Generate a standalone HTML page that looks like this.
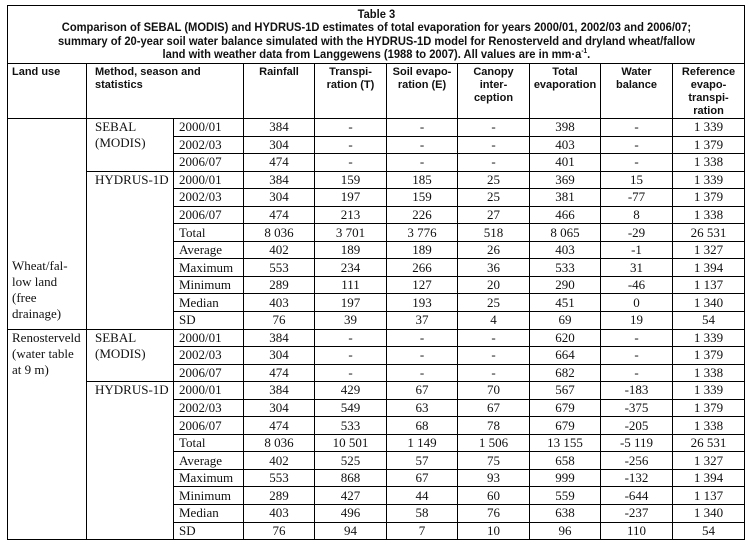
<!DOCTYPE html>
<html><head><meta charset="utf-8"><style>
html,body{margin:0;padding:0;background:#fff;width:749px;height:547px;overflow:hidden}
table{position:absolute;left:7px;top:5px;border-collapse:collapse;table-layout:fixed;width:737px}
td{border:1px solid #000;padding:0;font-family:"Liberation Serif",serif;font-size:13px;color:#111;text-align:center;height:16.55px;line-height:14px;white-space:nowrap;overflow:hidden}
td.l{text-align:left;padding-left:5px}
td.title{font-family:"Liberation Sans",sans-serif;font-weight:bold;font-size:12px;line-height:13.5px;height:57px;padding:0;white-space:normal}
tr.h td{font-family:"Liberation Sans",sans-serif;font-weight:bold;font-size:11px;line-height:13px;height:51px;vertical-align:top;padding-top:2px;white-space:normal}
td.lu{vertical-align:top;text-align:left;padding-left:4px;line-height:16px;white-space:normal}
td.m{vertical-align:top;text-align:left;padding-left:8px;line-height:16px;white-space:normal}
.t{display:inline-block;transform:scaleX(0.93);transform-origin:center}
sup{font-size:7px;line-height:0;vertical-align:5px}
</style></head><body>
<table>
<colgroup><col style="width:79px"><col style="width:87px"><col style="width:70px"><col style="width:71px"><col style="width:72px"><col style="width:71px"><col style="width:72px"><col style="width:71px"><col style="width:72px"><col style="width:72px"></colgroup>
<tr><td class="title" colspan="10"><span class="t">Table 3<br>Comparison of SEBAL (MODIS) and HYDRUS-1D estimates of total evaporation for years 2000/01, 2002/03 and 2006/07;<br>summary of 20-year soil water balance simulated with the HYDRUS-1D model for Renosterveld and dryland wheat/fallow<br>land with weather data from Langgewens (1988 to 2007). All values are in mm·a<sup>-1</sup>.</span></td></tr>
<tr class="h"><td class="l" style="padding-left:4px">Land use</td><td class="l" colspan="2" style="padding-left:8px">Method, season and<br>statistics</td><td>Rainfall</td><td>Transpi-<br>ration (T)</td><td>Soil evapo-<br>ration (E)</td><td>Canopy<br>inter-<br>ception</td><td>Total<br>evaporation</td><td>Water<br>balance</td><td>Reference<br>evapo-<br>transpi-<br>ration</td></tr>
<tr><td class="lu" rowspan="12" style="padding-top:139px">Wheat/fal-<br>low land<br>(free<br>drainage)</td><td class="m" rowspan="3">SEBAL<br>(MODIS)</td><td class="l">2000/01</td><td>384</td><td>-</td><td>-</td><td>-</td><td>398</td><td>-</td><td>1 339</td></tr>
<tr><td class="l">2002/03</td><td>304</td><td>-</td><td>-</td><td>-</td><td>403</td><td>-</td><td>1 379</td></tr>
<tr><td class="l">2006/07</td><td>474</td><td>-</td><td>-</td><td>-</td><td>401</td><td>-</td><td>1 338</td></tr>
<tr><td class="m" rowspan="9">HYDRUS-1D</td><td class="l">2000/01</td><td>384</td><td>159</td><td>185</td><td>25</td><td>369</td><td>15</td><td>1 339</td></tr>
<tr><td class="l">2002/03</td><td>304</td><td>197</td><td>159</td><td>25</td><td>381</td><td>-77</td><td>1 379</td></tr>
<tr><td class="l">2006/07</td><td>474</td><td>213</td><td>226</td><td>27</td><td>466</td><td>8</td><td>1 338</td></tr>
<tr><td class="l">Total</td><td>8 036</td><td>3 701</td><td>3 776</td><td>518</td><td>8 065</td><td>-29</td><td>26 531</td></tr>
<tr><td class="l">Average</td><td>402</td><td>189</td><td>189</td><td>26</td><td>403</td><td>-1</td><td>1 327</td></tr>
<tr><td class="l">Maximum</td><td>553</td><td>234</td><td>266</td><td>36</td><td>533</td><td>31</td><td>1 394</td></tr>
<tr><td class="l">Minimum</td><td>289</td><td>111</td><td>127</td><td>20</td><td>290</td><td>-46</td><td>1 137</td></tr>
<tr><td class="l">Median</td><td>403</td><td>197</td><td>193</td><td>25</td><td>451</td><td>0</td><td>1 340</td></tr>
<tr><td class="l">SD</td><td>76</td><td>39</td><td>37</td><td>4</td><td>69</td><td>19</td><td>54</td></tr>
<tr><td class="lu" rowspan="12">Renosterveld<br>(water table<br>at 9 m)</td><td class="m" rowspan="3">SEBAL<br>(MODIS)</td><td class="l">2000/01</td><td>384</td><td>-</td><td>-</td><td>-</td><td>620</td><td>-</td><td>1 339</td></tr>
<tr><td class="l">2002/03</td><td>304</td><td>-</td><td>-</td><td>-</td><td>664</td><td>-</td><td>1 379</td></tr>
<tr><td class="l">2006/07</td><td>474</td><td>-</td><td>-</td><td>-</td><td>682</td><td>-</td><td>1 338</td></tr>
<tr><td class="m" rowspan="9">HYDRUS-1D</td><td class="l">2000/01</td><td>384</td><td>429</td><td>67</td><td>70</td><td>567</td><td>-183</td><td>1 339</td></tr>
<tr><td class="l">2002/03</td><td>304</td><td>549</td><td>63</td><td>67</td><td>679</td><td>-375</td><td>1 379</td></tr>
<tr><td class="l">2006/07</td><td>474</td><td>533</td><td>68</td><td>78</td><td>679</td><td>-205</td><td>1 338</td></tr>
<tr><td class="l">Total</td><td>8 036</td><td>10 501</td><td>1 149</td><td>1 506</td><td>13 155</td><td>-5 119</td><td>26 531</td></tr>
<tr><td class="l">Average</td><td>402</td><td>525</td><td>57</td><td>75</td><td>658</td><td>-256</td><td>1 327</td></tr>
<tr><td class="l">Maximum</td><td>553</td><td>868</td><td>67</td><td>93</td><td>999</td><td>-132</td><td>1 394</td></tr>
<tr><td class="l">Minimum</td><td>289</td><td>427</td><td>44</td><td>60</td><td>559</td><td>-644</td><td>1 137</td></tr>
<tr><td class="l">Median</td><td>403</td><td>496</td><td>58</td><td>76</td><td>638</td><td>-237</td><td>1 340</td></tr>
<tr><td class="l">SD</td><td>76</td><td>94</td><td>7</td><td>10</td><td>96</td><td>110</td><td>54</td></tr>
</table>
</body></html>
